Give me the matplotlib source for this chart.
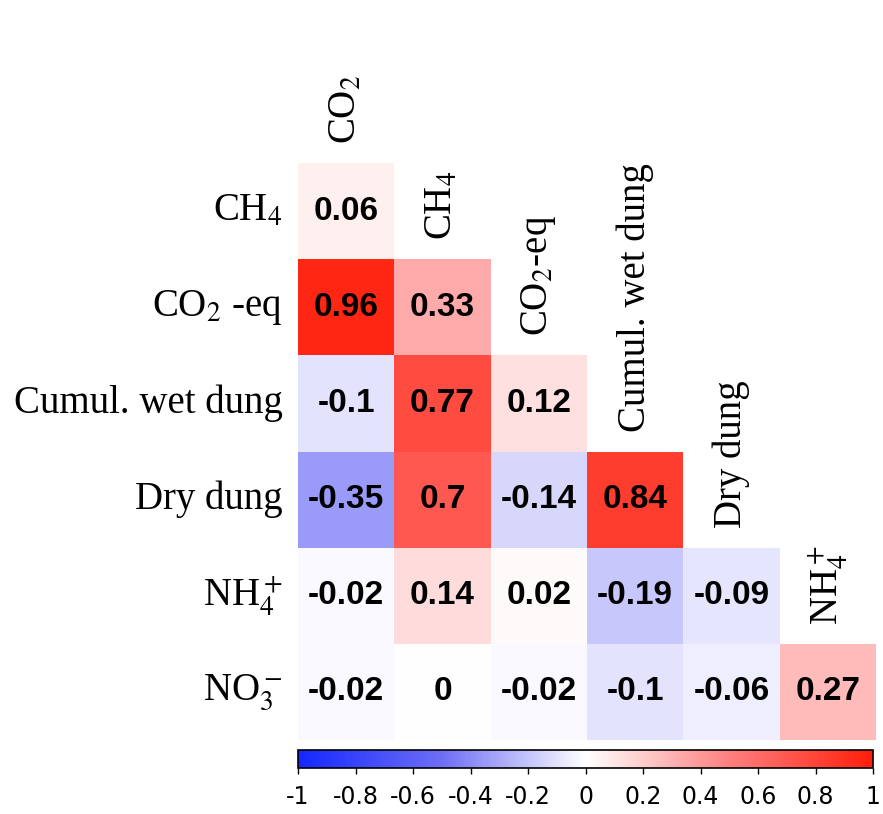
import numpy as np
import matplotlib.pyplot as plt
from matplotlib.colors import LinearSegmentedColormap, Normalize
import matplotlib as mpl

plt.rcParams['axes.unicode_minus'] = False
plt.rcParams['mathtext.fontset'] = 'stix'

row_labels = ['CH$_4$', 'CO$_2$ -eq', 'Cumul. wet dung', 'Dry dung',
              'NH$_4^+$', 'NO$_3^-$']
col_labels = ['CO$_2$', 'CH$_4$', 'CO$_2$-eq', 'Cumul. wet dung', 'Dry dung',
              'NH$_4^+$']

row_ch4 = [0.06]
row_co2eq = [0.96, 0.33]
row_wet = [-0.1, 0.77, 0.12]
row_dry = [-0.35, 0.7, -0.14, 0.84]
row_nh4 = [-0.02, 0.14, 0.02, -0.19, -0.09]
row_no3 = [-0.02, 0, -0.02, -0.1, -0.06, 0.27]
rows = [row_ch4, row_co2eq, row_wet, row_dry, row_nh4, row_no3]

cbar_ticks = [-1, -0.8, -0.6, -0.4, -0.2, 0, 0.2, 0.4, 0.6, 0.8, 1]
cbar_labels = ['-1', '-0.8', '-0.6', '-0.4', '-0.2', '0', '0.2', '0.4',
               '0.6', '0.8', '1']

n = len(rows)
mat = np.full((n, n), np.nan)
for i, r in enumerate(rows):
    mat[i, :len(r)] = r
mat = np.ma.masked_invalid(mat)

cmap = LinearSegmentedColormap.from_list(
    'bwr_corr',
    [(0.0, '#1428ff'), (0.25, '#6e6ef5'), (0.5, '#ffffff'),
     (0.75, '#ff8080'), (1.0, '#ff1e0a')])
norm = Normalize(-1, 1)

fig = plt.figure(figsize=(8.83, 8.14), dpi=100)
ax = fig.add_axes([298/883, 1-740/814, 578/883, 577/814])
ax.pcolormesh(np.arange(n+1), np.arange(n+1), mat, cmap=cmap, norm=norm)
ax.set_xlim(0, n)
ax.set_ylim(n, 0)
ax.axis('off')

for i, r in enumerate(rows):
    for j, v in enumerate(r):
        ax.text(j+0.5, i+0.5, f'{v:g}', ha='center', va='center',
                fontsize=24, fontweight='bold',
                family=['Liberation Sans Narrow', 'Liberation Sans'],
                color='black')

serif = 'Liberation Serif'
for i, lab in enumerate(row_labels):
    ax.text(-0.16, i+0.5, lab, ha='right', va='center', fontsize=28,
            family=serif)

for j, lab in enumerate(col_labels):
    ax.text(j+0.5, j-0.2, lab, ha='center', va='bottom', rotation=90,
            fontsize=28, family=serif)

cax = fig.add_axes([298/883, 1-768/814, 575/883, 18/814])
cb = mpl.colorbar.ColorbarBase(cax, cmap=cmap, norm=norm,
                               orientation='horizontal')
cb.set_ticks(cbar_ticks)
cb.set_ticklabels(cbar_labels)
cax.tick_params(labelsize=17, length=4, width=1, pad=8)
cb.outline.set_linewidth(1.2)

fig.savefig('out.png', dpi=100)
